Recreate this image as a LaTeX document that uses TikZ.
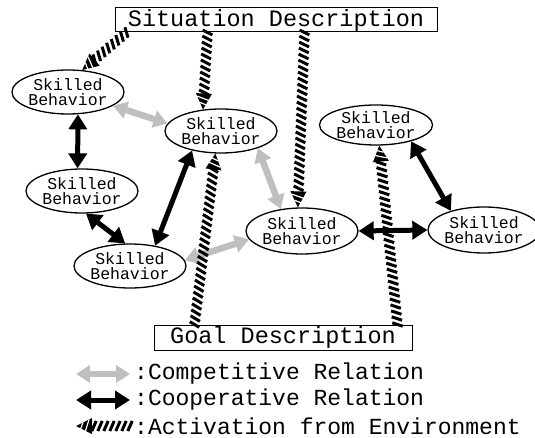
\documentclass[tikz,border=0pt]{standalone}
\usepackage{fontspec}
\setmonofont{Liberation Mono}
\usetikzlibrary{shapes.geometric,arrows.meta,decorations.markings,calc}
\begin{document}
\begin{tikzpicture}[x=1pt,y=-1pt,
  sb/.style={ellipse,draw,line width=1.3pt,inner sep=0pt,minimum width=110pt,minimum height=44pt,align=center,font=\fontsize{16.5}{15}\selectfont\ttfamily},
  desc/.style={draw,line width=1pt,inner sep=0pt,font=\fontsize{23.5}{23.5}\selectfont\ttfamily},
  legtext/.style={inner sep=0pt,anchor=west,font=\fontsize{23}{23}\selectfont\ttfamily},
  coop/.style={line width=5pt,{Triangle[length=15pt,width=18pt]}-{Triangle[length=15pt,width=18pt]}},
  comp/.style={line width=6.5pt,gray!50,{Triangle[length=14pt,width=17pt]}-{Triangle[length=14pt,width=17pt]}},
  actv/.style={postaction={decorate,decoration={markings,
      mark=between positions 0 and -15pt step 6pt with {\draw[black,line width=3pt] (-2.2pt,-5pt)--(2.2pt,5pt);},
      mark=at position 1 with {\fill[black] (0,0)--(-16pt,8pt)--(-16pt,-8pt)--cycle; \draw[white,line width=1.2pt] (-13pt,-6.5pt)--(-9pt,6.5pt) (-7pt,-3.5pt)--(-4.5pt,3.5pt);}}}},
]
\useasboundingbox (0,0) rectangle (535,438);
\fill[white] (0,0) rectangle (535,438);

% description boxes
\node[desc,minimum width=322pt,minimum height=24pt] (sit) at (276,20) {Situation Description\hspace{12pt}};
\node[desc,minimum width=258pt,minimum height=25pt] (goal) at (283,337.5) {Goal Description\hspace{15pt}};

% skilled behaviours
\node[sb] (e1) at (68,92) {Skilled\\Behavior};
\node[sb] (e2) at (221,131) {Skilled\\Behavior};
\node[sb] (e3) at (82,191) {Skilled\\Behavior};
\node[sb] (e4) at (130,266) {Skilled\\Behavior};
\node[sb,minimum height=46pt] (e5) at (302,231) {Skilled\\Behavior};
\node[sb,minimum width=113pt,minimum height=40pt] (e6) at (376,125) {Skilled\\Behavior};
\node[sb,minimum width=104pt,minimum height=46pt] (e7) at (484,230) {Skilled\\Behavior};

% competitive relations
\draw[comp] (e1.-17) -- (e2.172);
\draw[comp] (e2.-25) -- (e5.134);
\draw[comp] (e4.6) -- (e5.189);

% cooperative relations
\draw[coop] (e1.-66) -- (e3.101);
\draw[coop] (e3.-80) -- (e4.102);
\draw[coop] (e2.-146) -- (e4.39);
\draw[coop] (e5.east) -- (e7.west);
\draw[coop] (e6.-25) -- (e7.150);

% activation from environment
\path[actv] ([xshift=12pt]sit.south west) -- (e1.57);
\path[actv] ([xshift=93pt]sit.south west) -- (e2.130);
\path[actv] ([xshift=190pt]sit.south west) -- (e5.100);
\path[actv] ([xshift=41pt]goal.north west) -- (e2.-104);
\path[actv] ([xshift=244pt]goal.north west) -- (e6.-81);

% legend
\node[legtext] (l1) at (134,374) {:Competitive Relation};
\node[legtext] (l2) at (134,400) {:Cooperative Relation};
\node[legtext] (l3) at (134,426) {:Activation from Environment};
\coordinate (l1a) at (76,374);
\coordinate (l2a) at (76,400);
\coordinate (l3a) at (76,426);
\draw[comp] (l1a) -- ([xshift=-4pt]l1.west);
\draw[coop] (l2a) -- ([xshift=-4pt]l2.west);
\path[actv] ([xshift=-4pt]l3.west) -- (l3a);
\end{tikzpicture}
\end{document}
